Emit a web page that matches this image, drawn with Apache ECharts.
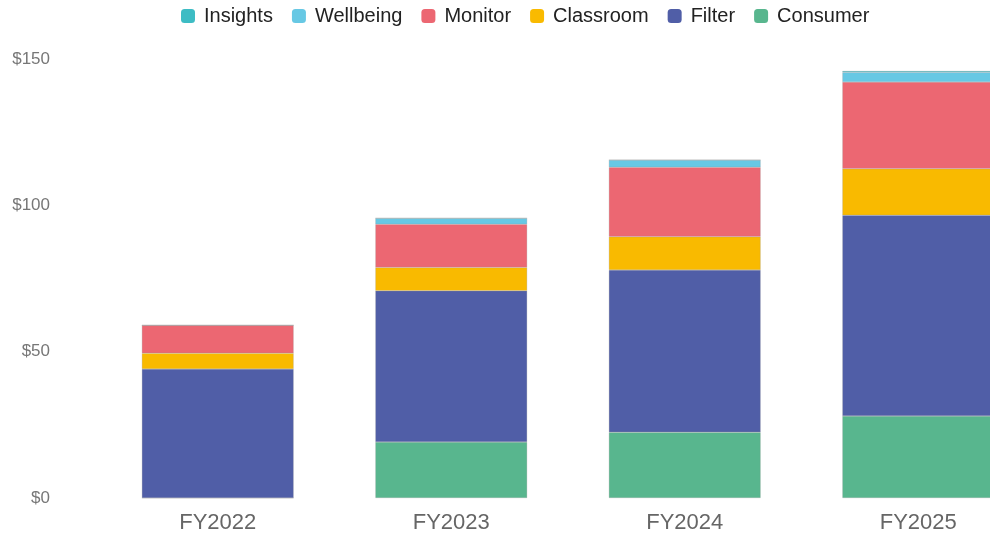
<!DOCTYPE html>
<html>
<head>
<meta charset="utf-8">
<script src="https://cdn.jsdelivr.net/npm/echarts@6/dist/echarts.min.js"></script>
<style>
html, body { margin: 0; padding: 0; background: #fff; overflow: hidden; }
/* the plot runs past the right edge of the window, like the reference */
#chartView { width: 1035px; height: 535px; }
</style>
</head>
<body>
<div id="chartView"></div>
<script>
var years = ['FY2022', 'FY2023', 'FY2024', 'FY2025'];
var consumer  = [0, 19.1, 22.5, 28.0];
var filter    = [44.1, 51.7, 55.4, 68.6];
var classroom = [5.4, 8.0, 11.4, 15.9];
var monitor   = [9.5, 14.7, 23.7, 29.6];
var wellbeing = [0, 2.1, 2.5, 3.4];
var insights  = [0, 0, 0, 0.4];
var yTicks = [0, 50, 100, 150];

var chartView = echarts.init(document.getElementById('chartView'));

function barSeries(name, data, color) {
	return {
		name: name,
		type: 'bar',
		stack: 'total',
		barWidth: '65%',
		data: data,
		itemStyle: {
			color: color,
			borderColor: 'rgba(150,150,150,0.5)',
			borderWidth: 0.5
		}
	};
}

var ops = {
	textStyle: { fontFamily: 'Liberation Sans, Arial, sans-serif' },
	legend: {
		top: 1,
		left: 176,
		itemWidth: 14,
		itemHeight: 14,
		itemGap: 19,
		icon: 'roundRect',
		itemStyle: { borderWidth: 0 },
		textStyle: { fontSize: 20, color: '#222', padding: [0, 0, 0, 4] },
		data: ['Insights', 'Wellbeing', 'Monitor', 'Classroom', 'Filter', 'Consumer']
	},
	grid: {
		left: 101,
		right: 0,
		top: 59,
		bottom: 37
	},
	xAxis: {
		type: 'category',
		data: years,
		axisLine: { show: false },
		axisTick: { show: false },
		axisLabel: { fontSize: 22, color: '#666', margin: 14 }
	},
	yAxis: {
		type: 'value',
		min: yTicks[0],
		max: yTicks[yTicks.length - 1],
		interval: 50,
		splitLine: { show: false },
		axisLine: { show: false },
		axisTick: { show: false },
		axisLabel: {
			fontSize: 17,
			color: '#777',
			margin: 51,
			formatter: function (v) { return '$' + v; }
		}
	},
	series: [
		barSeries('Consumer', consumer, '#58b68e'),
		barSeries('Filter', filter, '#505ea7'),
		barSeries('Classroom', classroom, '#f9ba00'),
		barSeries('Monitor', monitor, '#ec6772'),
		barSeries('Wellbeing', wellbeing, '#67c8e4'),
		barSeries('Insights', insights, '#3dbcc4')
	]
};
chartView.setOption(ops);
</script>
</body>
</html>
